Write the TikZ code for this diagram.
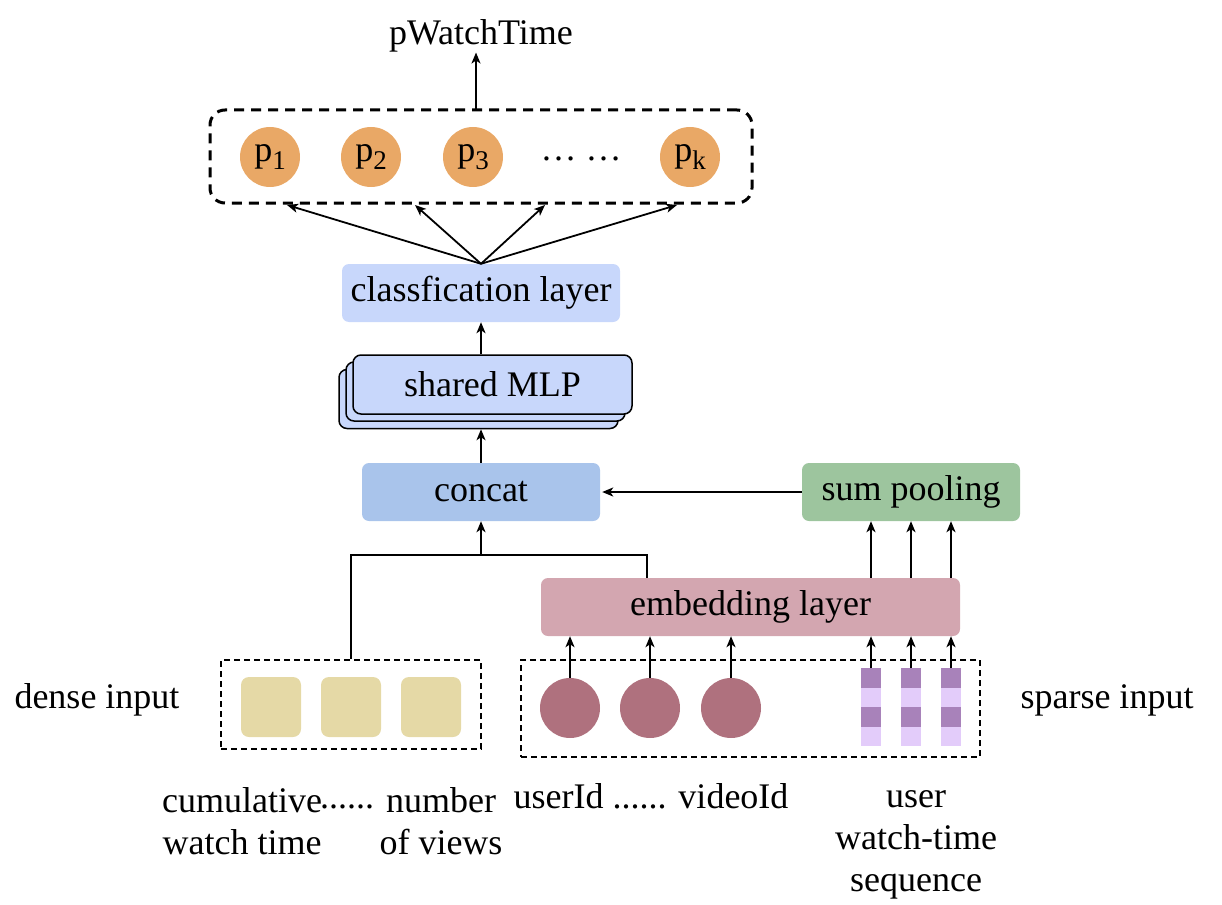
\documentclass[tikz,border=0pt]{standalone}
\usepackage{fontspec}
\setmainfont{Liberation Serif}
\usetikzlibrary{arrows.meta}
\definecolor{pOr}{HTML}{E9A866}
\definecolor{clsC}{HTML}{C8D7FB}
\definecolor{concatC}{HTML}{A9C4EB}
\definecolor{sumC}{HTML}{9DC59E}
\definecolor{embC}{HTML}{D3A6B0}
\definecolor{denseC}{HTML}{E5D9A6}
\definecolor{circC}{HTML}{AF717E}
\definecolor{seqD}{HTML}{A882BA}
\definecolor{seqL}{HTML}{E3CCFA}
\newcommand{\psub}[1]{p\raisebox{-0.22em}{\fontsize{27}{27}\selectfont #1}}
\begin{document}
\begin{tikzpicture}[x=1pt,y=-1pt,
  every node/.style={font=\fontsize{36}{42}\selectfont},
  arr/.style={-{Stealth[length=11pt,width=9pt,inset=3pt]}, line width=1.8pt},
  ln/.style={line width=1.8pt},
  blk/.style={rounded corners=7pt, minimum height=58pt, inner sep=0pt},
  mlpbox/.style={blk, draw, line width=1.5pt, fill=clsC, minimum width=279pt, minimum height=59pt, rounded corners=8pt},
  pc/.style={circle, fill=pOr, minimum size=60pt, inner sep=0pt},
  uc/.style={circle, fill=circC, minimum size=60pt, inner sep=0pt},
  dsq/.style={rounded corners=8pt, fill=denseC, minimum size=60pt, inner sep=0pt},
  thinbox/.style={draw, line width=2pt, dash pattern=on 6pt off 4pt, inner sep=0pt},
  lbl/.style={align=center, inner sep=0pt}
]
\useasboundingbox (0,0) rectangle (1222,904);

% top output group
\node[draw, line width=3pt, dash pattern=on 10pt off 7pt, rounded corners=15pt,
      minimum width=542pt, minimum height=93pt, inner sep=0pt] (pbox) at (481,156.5) {};
\node[pc] (p1) at (270,157) {\psub{1}};
\node[pc] (p2) at (371,157) {\psub{2}};
\node[pc] (p3) at (473,157) {\psub{3}};
\node[lbl] (dots) at (581,159) {\ldots\ \ldots};
\node[pc] (pk) at (690,157) {\psub{k}};
\node[lbl] (pwt) at (481,36) {pWatchTime};
\coordinate (tw) at (476,110);
\draw[arr] (tw) -- (tw |- pwt.south);

% classification
\node[blk, fill=clsC, minimum width=278pt] (cls) at (481,293) {classfication layer};
\coordinate (f1) at (287,205);
\coordinate (f2) at (415,205);
\coordinate (f3) at (545,205);
\coordinate (f4) at (677,205);
\foreach \f in {f1,f2,f3,f4} \draw[arr] (cls.north) -- (\f);

% shared MLP stack
\node[mlpbox] (mlp3) at (478.5,399) {};
\node[mlpbox] (mlp2) at (485.5,391.5) {};
\node[mlpbox] (mlp) at (492.5,384.5) {shared MLP};
\draw[arr] (cls.south |- mlp.north) -- (cls.south);

% concat and sum pooling
\node[blk, fill=concatC, minimum width=238pt] (concat) at (481,492) {concat};
\node[blk, fill=sumC, minimum width=218pt] (sum) at (911,492) {sum pooling};
\draw[arr] (concat.north) -- (concat.north |- mlp3.south);
\draw[arr] (sum.west) -- ([xshift=2pt]concat.east);

% embedding
\node[blk, fill=embC, minimum width=419pt] (emb) at (750.5,607) {embedding layer};

% dense input
\node[thinbox, minimum width=260pt, minimum height=89pt] (dbox) at (351,704.5) {};
\node[dsq] (d1) at (271,707) {};
\node[dsq] (d2) at (351,707) {};
\node[dsq] (d3) at (431,707) {};
\coordinate (jl) at (351,555);
\coordinate (jr) at (647,555);
\draw[ln] (dbox.north) -- (jl) -- (jr) -- (jr |- emb.north);
\draw[arr] (concat.south |- jl) -- (concat.south);

% sparse input
\node[thinbox, minimum width=459pt, minimum height=97pt] (sbox) at (750.5,708.5) {};
\node[uc] (u1) at (570,708) {};
\node[uc] (u2) at (650,708) {};
\node[uc] (u3) at (731,708) {};
\foreach \u in {u1,u2,u3} \draw[arr] (\u.north) -- (\u.north |- emb.south);

\foreach \n/\x in {q1/871,q2/911,q3/951}{
  \fill[seqD] (\x-10,668) rectangle (\x+10,687.5);
  \fill[seqL] (\x-10,687.5) rectangle (\x+10,707);
  \fill[seqD] (\x-10,707) rectangle (\x+10,726.5);
  \fill[seqL] (\x-10,726.5) rectangle (\x+10,746);
  \coordinate (\n) at (\x,668);
}
\foreach \q in {q1,q2,q3}{
  \draw[arr] (\q) -- (\q |- emb.south);
  \draw[arr] (\q |- emb.north) -- (\q |- sum.south);
}

% labels
\node[lbl] (ldense) at (97,700) {dense input};
\node[lbl] (lsparse) at (1107,700) {sparse input};
\node[lbl] (lcum) at (242,821) {cumulative\\watch time};
\node[lbl] (ldots) at (347,800) {\strut......};
\node[lbl] (lnum) at (441,821) {number\\of views};
\node[lbl] (luser) at (651,800) {\strut userId ...... videoId};
\node[lbl] (lseq) at (916,845) {user\\watch-time\\sequence};
\end{tikzpicture}
\end{document}
